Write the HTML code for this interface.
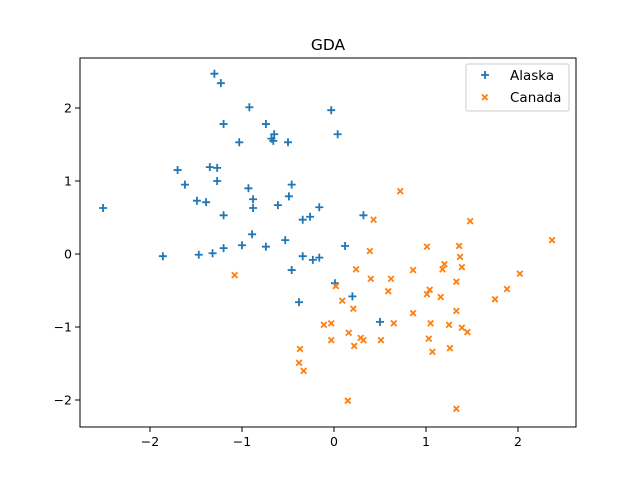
<!DOCTYPE html>
<html><head><meta charset="utf-8"><style>
body{margin:0;background:#fff;font-family:"Liberation Sans","DejaVu Sans",sans-serif}
svg text{font-family:"DejaVu Sans","Liberation Sans",sans-serif}
</style></head><body>
<svg id="chart" width="640" height="480" xmlns="http://www.w3.org/2000/svg">
<rect width="640" height="480" fill="#fff"/>
<text x="328" y="50" font-size="15.5" text-anchor="middle">GDA</text>
<g id="marks"></g>
<rect x="80" y="58" width="496" height="369" fill="none" stroke="#000" stroke-width="1"/>
<g id="axes"></g>
<g>
<rect x="466" y="64" width="103" height="47" fill="#fff" fill-opacity="0.8" stroke="#ccc" rx="2"/>
<g>
<path d="M485 71v8M481 75h8" stroke="#1f77b4" stroke-width="1.8"/>
<text x="510" y="80" font-size="13.5">Alaska</text></g>
<g>
<path d="M482 94.5l5.5 5.5M487.5 94.5l-5.5 5.5" stroke="#ff7f0e" stroke-width="1.8"/>
<text x="510" y="102" font-size="13.5">Canada</text></g>
</g>
</svg>
<script>
const xTicks=[-2,-1,0,1,2];
const yTicks=[-2,-1,0,1,2];
const alaskaX=[-2.51,-1.86,-1.70,-1.62,-1.49,-1.39,-1.47,-1.32,-1.35,-1.27,-1.27,-1.30,-1.23,-1.20,-1.20,-1.20,-1.03,-1.00,-0.92,-0.93,-0.88,-0.88,-0.89,-0.74,-0.74,-0.68,-0.65,-0.66,-0.61,-0.50,-0.53,-0.49,-0.46,-0.46,-0.34,-0.34,-0.26,-0.23,-0.16,-0.16,-0.03,0.04,0.01,-0.38,0.12,0.20,0.32,0.50];
const alaskaY=[0.63,-0.03,1.15,0.95,0.73,0.71,-0.01,0.01,1.19,1.18,1.00,2.47,2.34,0.53,1.78,0.08,1.53,0.12,2.01,0.90,0.75,0.63,0.27,1.78,0.10,1.58,1.64,1.55,0.67,1.53,0.19,0.79,0.95,-0.22,0.47,-0.03,0.51,-0.08,0.64,-0.05,1.97,1.64,-0.40,-0.66,0.11,-0.58,0.53,-0.93];
const canadaX=[-1.08,-0.37,-0.38,-0.33,-0.11,-0.03,-0.03,0.02,0.09,0.16,0.21,0.24,0.22,0.29,0.32,0.40,0.43,0.39,0.51,0.59,0.62,0.65,0.72,0.86,0.86,1.01,1.01,1.03,1.04,1.07,1.05,1.18,1.16,1.20,1.25,1.26,1.33,1.33,1.39,1.37,1.36,1.39,1.45,1.48,1.75,1.88,2.02,2.37,0.15,1.33];
const canadaY=[-0.29,-1.30,-1.49,-1.60,-0.97,-0.95,-1.18,-0.44,-0.64,-1.08,-0.75,-0.21,-1.26,-1.15,-1.18,-0.34,0.47,0.04,-1.18,-0.51,-0.34,-0.95,0.86,-0.22,-0.81,0.10,-0.55,-1.16,-0.49,-1.34,-0.95,-0.21,-0.59,-0.14,-0.97,-1.29,-0.78,-0.38,-0.18,-0.04,0.11,-1.01,-1.07,0.45,-0.62,-0.48,-0.27,0.19,-2.01,-2.12];
const NS='http://www.w3.org/2000/svg';
const sx=v=>334+v*92, sy=v=>254-v*73;
const marks=document.getElementById('marks'), axes=document.getElementById('axes');
function mk(tag,attrs,parent){const e=document.createElementNS(NS,tag);for(const k in attrs)e.setAttribute(k,attrs[k]);parent.appendChild(e);return e;}
alaskaX.forEach((x,i)=>{const cx=sx(x),cy=sy(alaskaY[i]);
 const p=mk('path',{d:`M${cx} ${cy-4}v8M${cx-4} ${cy}h8`,stroke:'#1f77b4','stroke-width':1.8},marks);
 
 });
canadaX.forEach((x,i)=>{const cx=sx(x),cy=sy(canadaY[i]);
 const p=mk('path',{d:`M${cx-2.8} ${cy-2.8}l5.6 5.6M${cx+2.8} ${cy-2.8}l-5.6 5.6`,stroke:'#ff7f0e','stroke-width':1.8},marks);
 
 });
xTicks.forEach(t=>{const x=sx(t);
 mk('line',{x1:x,x2:x,y1:427,y2:432,stroke:'#000'},axes);
 const tx=mk('text',{x:x,y:446,'font-size':12.5,'text-anchor':'middle'},axes);tx.textContent=(t<0?'\u2212'+(-t):t);
 
 });
yTicks.forEach(t=>{const y=sy(t);
 mk('line',{x1:75,x2:80,y1:y,y2:y,stroke:'#000'},axes);
 const tx=mk('text',{x:72,y:y+4.5,'font-size':12.5,'text-anchor':'end'},axes);tx.textContent=(t<0?'\u2212'+(-t):t);
 
 });
</script>
</body></html>
